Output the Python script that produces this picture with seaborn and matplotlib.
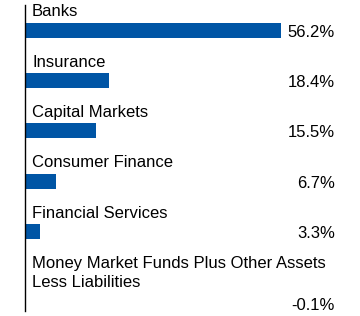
import matplotlib
matplotlib.use("Agg")
import matplotlib.pyplot as plt
import matplotlib.transforms as mtransforms
import seaborn as sns
import pandas as pd

categories = ["Banks", "Insurance", "Capital Markets", "Consumer Finance",
              "Financial Services",
              "Money Market Funds Plus Other Assets\nLess Liabilities"]
values = [56.2, 18.4, 15.5, 6.7, 3.3, -0.1]
value_labels = ["56.2%", "18.4%", "15.5%", "6.7%", "3.3%", "-0.1%"]

sns.set_theme(style="white")
plt.rcParams['font.family'] = ['Liberation Sans', 'DejaVu Sans']

DPI = 100
FS = 12
fig = plt.figure(figsize=(3.6, 3.16), dpi=DPI)
ax = fig.add_axes([25 / 360, 5 / 316, 335 / 360, 306 / 316])

df = pd.DataFrame({"cat": categories, "val": values})
sns.barplot(data=df, x="val", y="cat", orient="h", color="#0055A5",
            saturation=1, width=0.3, ax=ax, edgecolor="none")

ax.set_xlim(0, 335 / 4.555)
ax.set_ylim(len(categories) - 0.5 + 0.075, -0.5)
ax.set_xlabel("")
ax.set_ylabel("")
ax.set_xticks([])
ax.set_yticks([])
for s in ["top", "right", "bottom"]:
    ax.spines[s].set_visible(False)
ax.spines["left"].set_color("black")
ax.spines["left"].set_linewidth(1.0)

blend_left = mtransforms.blended_transform_factory(ax.transAxes, ax.transData)
for i, (cat, lab) in enumerate(zip(categories, value_labels)):
    nlines = cat.count("\n") + 1
    tr = mtransforms.offset_copy(blend_left, fig=fig, x=7, y=26, units="dots")
    ax.text(0, i, cat, transform=tr, ha="left", va="top", fontsize=FS,
            color="black", linespacing=1.32)
    yoff = -2 - (nlines - 1) * 21
    tr2 = mtransforms.offset_copy(blend_left, fig=fig, x=-25, y=yoff, units="dots")
    ax.text(1, i, lab, transform=tr2, ha="right", va="center", fontsize=FS,
            color="black")

fig.savefig("out.png", dpi=DPI)
